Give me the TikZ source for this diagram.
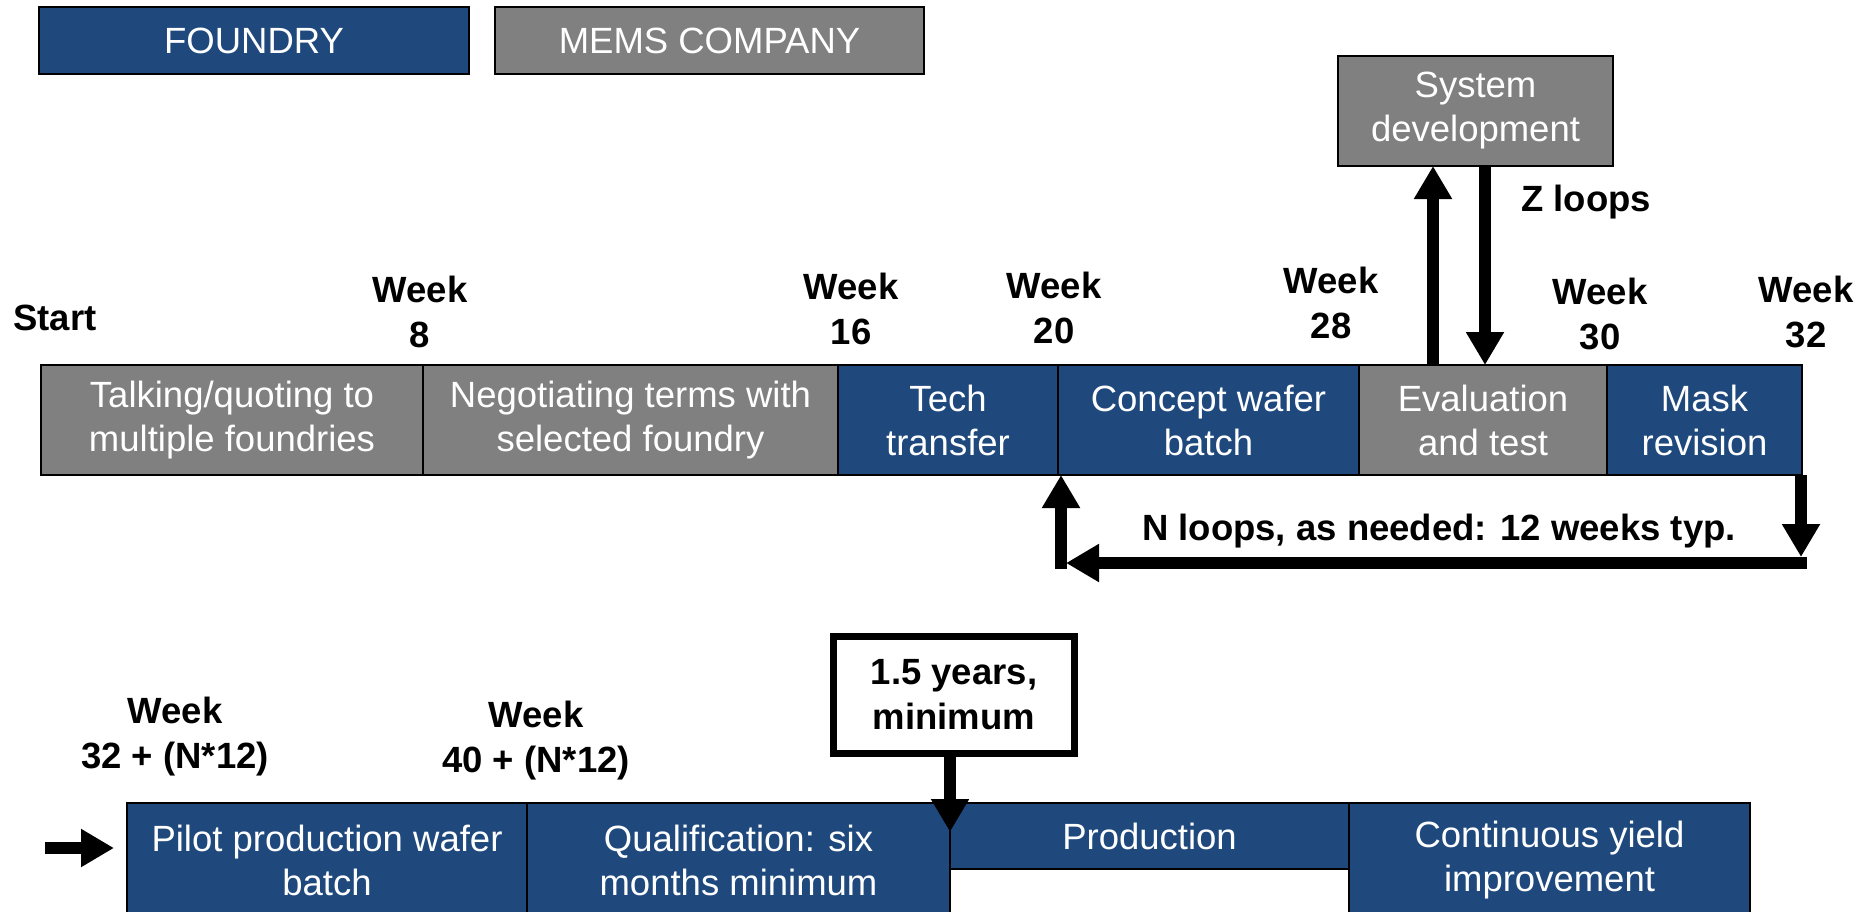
\documentclass[tikz,border=0pt]{standalone}
\usepackage{fontspec}
\setmainfont{Liberation Sans}
\usetikzlibrary{arrows.meta}
\definecolor{fblue}{RGB}{31,73,125}
\definecolor{mgray}{RGB}{128,128,128}
\newcommand\myboxfont{\fontsize{36.5}{44}\selectfont}
\newcommand\mylblfont{\fontsize{36.5}{45}\selectfont\bfseries}
\tikzset{
  box/.style={draw=black, line width=2pt, text=white, align=center, inner sep=0pt, outer sep=0pt, font=\myboxfont, anchor=north west},
  fbox/.style={box, fill=fblue},
  mbox/.style={box, fill=mgray},
  lbl/.style={align=center, font=\mylblfont, inner sep=0pt, text=black},
  bigarrow/.style={line width=12pt, -{Triangle[width=36pt,length=33pt]}},
}
\begin{document}
\begin{tikzpicture}[x=1pt,y=-1pt]
\useasboundingbox (0,0) rectangle (1862,911);
\clip (0,0) rectangle (1862,911);
% legend
\node[fbox, minimum width=430pt, minimum height=67pt] (leg1) at (39,7) {FOUNDRY};
\node[mbox, minimum width=429pt, minimum height=67pt] (leg2) at (495,7) {MEMS COMPANY};
% system development
\node[mbox, minimum width=275pt, minimum height=110pt] (sys) at (1338,56) {System\\development};
% row 1
\node[mbox, minimum width=382pt, minimum height=110pt] (t1) at (41,365) {Talking/quoting to\\multiple foundries};
\node[mbox, minimum width=415pt, minimum height=110pt] (t2) at (t1.north east) {Negotiating terms with\\selected foundry};
\node[fbox, minimum width=220pt, minimum height=110pt] (t3) at (t2.north east) {Tech\\transfer};
\node[fbox, minimum width=301pt, minimum height=110pt] (t4) at (t3.north east) {Concept wafer\\batch};
\node[mbox, minimum width=248pt, minimum height=110pt] (t5) at (t4.north east) {Evaluation\\and test};
\node[fbox, minimum width=195pt, minimum height=110pt] (t6) at (t5.north east) {Mask\\revision};
% row 1 labels
\node[lbl] (start) at (55,318) {Start};
\node[lbl] (w8) at (420,312) {Week\\8};
\node[lbl] (w16) at (851,309) {Week\\16};
\node[lbl] (w20) at (1054,308) {Week\\20};
\node[lbl] (w28) at (1331,303) {Week\\28};
\node[lbl] (w30) at (1600,314) {Week\\30};
\node[lbl] (w32) at (1806,312) {Week\\32};
\node[lbl] (zl) at (1586,202) {Z loops};
\node[lbl] (nl) at (1439,531) {N loops, as needed: 12 weeks typ.};
% row 2
\node[fbox, minimum width=400pt, minimum height=114pt] (b1) at (127,803) {Pilot production wafer\\batch};
\node[fbox, minimum width=423pt, minimum height=114pt] (b2) at (b1.north east) {Qualification: six\\months minimum};
\node[fbox, minimum width=399pt, minimum height=66pt] (b3) at (b2.north east) {Production};
\node[fbox, minimum width=401pt, minimum height=114pt] (b4) at (b3.north east) {Continuous yield\\improvement};
\node[lbl] (w32n) at (175,737) {Week\\32 + (N*12)};
\node[lbl] (w40n) at (536,741) {Week\\40 + (N*12)};
\node[lbl, draw=black, line width=7pt, fill=white, minimum width=241pt, minimum height=117pt] (yrs) at (954,695) {1.5 years,\\minimum};
% arrows
\coordinate (ua) at (1433,0);
\coordinate (da) at (1485,0);
\draw[bigarrow] (t5.north -| ua) -- (sys.south -| ua);
\draw[bigarrow] (sys.south -| da) -- (t5.north -| da);
\coordinate (nR) at (1801,563);
\coordinate (nL) at (1061,563);
\draw[bigarrow] (t6.south -| nR) -- ([yshift=6pt]nR);
\draw[bigarrow] ([xshift=6pt]nR) -- ([xshift=5pt]nL);
\draw[bigarrow] ([yshift=-6pt]nL) -- (t4.south -| nL);
\coordinate (la) at (45,848);
\coordinate (lb) at (114,848);
\draw[bigarrow] (la) -- (lb);
\coordinate (ya) at (950,832);
\draw[bigarrow] (yrs.south -| ya) -- (ya);
\end{tikzpicture}
\end{document}
